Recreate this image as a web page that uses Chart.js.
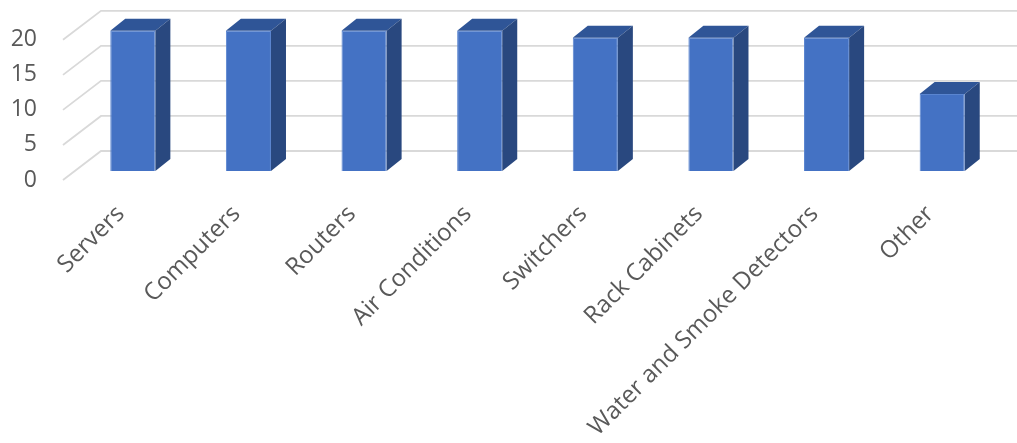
<!DOCTYPE html>
<html>
<head>
<meta charset="utf-8">
<script src="https://cdn.jsdelivr.net/npm/chart.js@4"></script>
<style>
  html, body { margin: 0; padding: 0; background: #fff; }
  #wrap { width: 1017px; height: 443px; }
</style>
</head>
<body>
<div id="wrap"><canvas id="grafik"></canvas></div>
<script>
// -------- DATA --------
const kategori = ["Servers", "Computers", "Routers", "Air Conditions", "Switchers",
    "Rack Cabinets", "Water and Smoke Detectors", "Other"];
const jumlah = [20, 20, 20, 20, 19, 19, 19, 11];
const tickNilai = [0, 5, 10, 15, 20];

// -------- 3D LOOK --------
// front plane -> bar front, bar depth, front plane -> back wall
const BAR_OFF = { x: 12, y: -9 };
const DEPTH = { x: 15, y: -12 };
const WALL = { x: 38, y: -29 };

const gridBelakang = {
    id: "gridBelakang",
    beforeDatasetsDraw(chart) {
        const ctx = chart.ctx;
        const y = chart.scales.y;
        const left = chart.chartArea.left;
        ctx.save();
        ctx.strokeStyle = "#d9d9d9";
        ctx.lineWidth = 1.8;
        tickNilai.forEach(v => {
            const py = y.getPixelForValue(v);
            ctx.beginPath();
            ctx.moveTo(left, py);
            ctx.lineTo(left + WALL.x, py + WALL.y);
            ctx.lineTo(chart.width, py + WALL.y);
            ctx.stroke();
        });
        ctx.restore();
        // bars are drawn on their own plane, a bit behind the front
        ctx.save();
        ctx.translate(BAR_OFF.x, BAR_OFF.y);
    },
    afterDatasetsDraw(chart) {
        const ctx = chart.ctx;
        chart.getDatasetMeta(0).data.forEach(bar => {
            const p = bar.getProps(["x", "y", "base", "width"], true);
            const l = p.x - p.width / 2, r = p.x + p.width / 2;
            // top
            ctx.fillStyle = "#2f5597";
            ctx.beginPath();
            ctx.moveTo(l, p.y);
            ctx.lineTo(l + DEPTH.x, p.y + DEPTH.y);
            ctx.lineTo(r + DEPTH.x, p.y + DEPTH.y);
            ctx.lineTo(r, p.y);
            ctx.closePath();
            ctx.fill();
            // side
            ctx.fillStyle = "#29487f";
            ctx.beginPath();
            ctx.moveTo(r, p.y);
            ctx.lineTo(r + DEPTH.x, p.y + DEPTH.y);
            ctx.lineTo(r + DEPTH.x, p.base + DEPTH.y);
            ctx.lineTo(r, p.base);
            ctx.closePath();
            ctx.fill();
        });
        ctx.restore();
    }
};

new Chart(document.getElementById("grafik"), {
    type: "bar",
    data: {
        labels: kategori,
        datasets: [{
            data: jumlah,
            backgroundColor: "#4472c4",
            borderColor: "#5a85d0",
            borderWidth: 1,
            barPercentage: 0.39,
            categoryPercentage: 1,
            clip: false
        }]
    },
    options: {
        responsive: true,
        maintainAspectRatio: false,
        animation: false,
        events: [],
        layout: { padding: { top: 39, right: 29, left: 0, bottom: 0 } },
        plugins: { legend: { display: false }, tooltip: { enabled: false } },
        scales: {
            x: {
                grid: { display: false, drawTicks: false },
                border: { display: false },
                afterFit(scale) { scale.height = 263; },
                ticks: {
                    autoSkip: false,
                    minRotation: 45,
                    maxRotation: 45,
                    padding: 20,
                    color: "#595959",
                    font: { family: "Open Sans", size: 24 }
                }
            },
            y: {
                min: 0,
                max: 20,
                grid: { display: false, drawTicks: false },
                border: { display: false },
                afterFit(scale) { scale.width = 63; },
                afterBuildTicks(scale) { scale.ticks = tickNilai.map(v => ({ value: v })); },
                ticks: {
                    padding: 26,
                    color: "#595959",
                    font: { family: "Open Sans", size: 23 }
                }
            }
        }
    },
    plugins: [gridBelakang]
});
</script>
</body>
</html>
